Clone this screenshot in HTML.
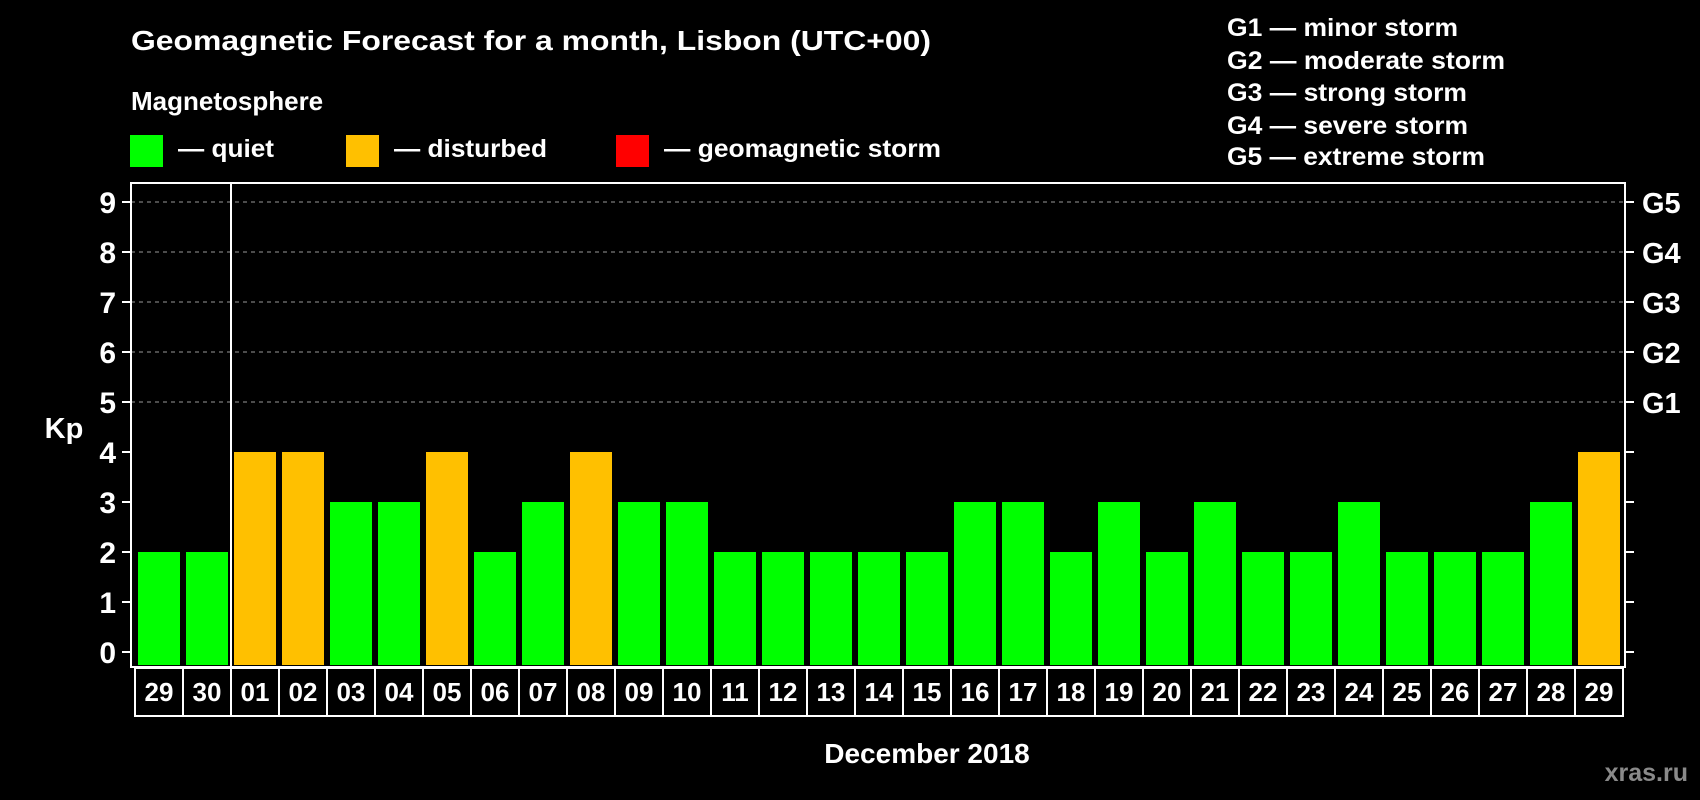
<!DOCTYPE html>
<html><head><meta charset="utf-8"><style>
html,body{margin:0;padding:0;background:#000;width:1700px;height:800px;overflow:hidden}
svg{display:block;font-family:"Liberation Sans",sans-serif;font-weight:bold}
</style></head><body>
<svg id="chart" width="1700" height="800" viewBox="0 0 1700 800">
<text x="131" y="50" fill="#fff" font-size="28" textLength="800" lengthAdjust="spacingAndGlyphs">Geomagnetic Forecast for a month, Lisbon (UTC+00)</text>
<text x="131" y="110" fill="#fff" font-size="26">Magnetosphere</text>
<g>
<rect x="130" y="135" width="33" height="32" fill="#00ff00"/>
<text x="178" y="157" fill="#fff" font-size="25" textLength="96" lengthAdjust="spacingAndGlyphs">— quiet</text>
<rect x="346" y="135" width="33" height="32" fill="#ffc000"/>
<text x="394" y="157" fill="#fff" font-size="25" textLength="153" lengthAdjust="spacingAndGlyphs">— disturbed</text>
<rect x="616" y="135" width="33" height="32" fill="#ff0000"/>
<text x="664" y="157" fill="#fff" font-size="25" textLength="277" lengthAdjust="spacingAndGlyphs">— geomagnetic storm</text>
</g>
<g font-size="25" fill="#fff">
<text x="1227" y="36" textLength="231" lengthAdjust="spacingAndGlyphs">G1 — minor storm</text>
<text x="1227" y="69" textLength="278" lengthAdjust="spacingAndGlyphs">G2 — moderate storm</text>
<text x="1227" y="101" textLength="240" lengthAdjust="spacingAndGlyphs">G3 — strong storm</text>
<text x="1227" y="134" textLength="241" lengthAdjust="spacingAndGlyphs">G4 — severe storm</text>
<text x="1227" y="165" textLength="258" lengthAdjust="spacingAndGlyphs">G5 — extreme storm</text>
</g>
<text x="64" y="438" fill="#fff" font-size="29" text-anchor="middle">Kp</text>
<text x="927" y="763" fill="#fff" font-size="28" text-anchor="middle">December 2018</text>
<text x="1688" y="781" fill="#8a8a8a" font-size="25" text-anchor="end">xras.ru</text>
<g id="plot"></g>
</svg>
<script>
const dates = ["29","30","01","02","03","04","05","06","07","08","09","10","11","12","13","14","15","16","17","18","19","20","21","22","23","24","25","26","27","28","29"];
const kpValues = [2,2,4,4,3,3,4,2,3,4,3,3,2,2,2,2,2,3,3,2,3,2,3,2,2,3,2,2,2,3,4];
const yTicks = [0,1,2,3,4,5,6,7,8,9];
const gLabels = ["","","","","","G1","G2","G3","G4","G5"];
const NS="http://www.w3.org/2000/svg";
const plot=document.getElementById('plot');
const L=131,R=1625,T=183,B=667,Y0=652,UNIT=50,X0=135,STEP=48;
const y=v=>Y0-v*UNIT;
const xBand=i=>X0+i*STEP;
function mk(tag,attrs){const e=document.createElementNS(NS,tag);for(const k in attrs)e.setAttribute(k,attrs[k]);plot.appendChild(e);return e;}
yTicks.forEach((v,i)=>{
  if(v>=5){const g=mk('line',{x1:L,x2:R,y1:y(v),y2:y(v),stroke:'#999','stroke-width':1,'stroke-dasharray':'4,4'});
  
  }
  const t1=mk('line',{x1:L-9,x2:L,y1:y(v),y2:y(v),stroke:'#fff','stroke-width':2});
  
  
  const t2=mk('line',{x1:R,x2:R+9,y1:y(v),y2:y(v),stroke:'#fff','stroke-width':2});
  
  
  const lb=mk('text',{x:116,y:y(v)+11,fill:'#fff','font-size':30,'text-anchor':'end'});
  lb.textContent=v;
  
  
  if(gLabels[i]){const g=mk('text',{x:1642,y:y(v)+11,fill:'#fff','font-size':29});
  g.textContent=gLabels[i];
  
  }
});
kpValues.forEach((v,i)=>{
  const b=mk('rect',{x:xBand(i)+3,y:y(v),width:42,height:B-y(v)-2,fill:v>=5?'#ff0000':(v>=4?'#ffc000':'#00ff00')});
  
  
  const c=mk('rect',{x:xBand(i),y:B+1,width:STEP,height:48,fill:'none',stroke:'#fff','stroke-width':2});
  
  
  const t=mk('text',{x:xBand(i)+STEP/2,y:B+34,fill:'#fff','font-size':26,'text-anchor':'middle'});
  t.textContent=dates[i];
  
  
});
const fr=mk('rect',{x:L,y:T,width:R-L,height:B-T,fill:'none',stroke:'#fff','stroke-width':2});


const mi=dates.indexOf("01");
const dv=mk('line',{x1:xBand(mi),x2:xBand(mi),y1:T,y2:B,stroke:'#fff','stroke-width':2});


</script>
</body></html>
